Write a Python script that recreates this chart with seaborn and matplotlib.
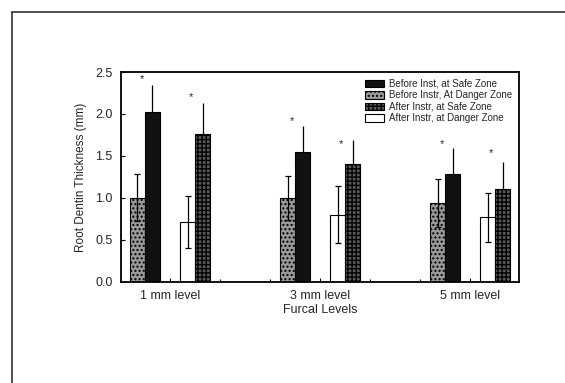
import numpy as np
import matplotlib
matplotlib.use("Agg")
import matplotlib.pyplot as plt
from matplotlib.lines import Line2D
from matplotlib.ticker import MultipleLocator
import seaborn as sns

levels = ["1 mm level", "3 mm level", "5 mm level"]
series = [
    "Before Inst, at Safe Zone",
    "Before Instr, At Danger Zone",
    "After Instr, at Safe Zone",
    "After Instr, at Danger Zone",
]
# values (mm)
before_safe = [2.02, 1.55, 1.28]
before_danger = [1.00, 1.00, 0.94]
after_safe = [1.76, 1.40, 1.11]
after_danger = [0.71, 0.80, 0.77]
before_safe_err = [0.33, 0.31, 0.31]
before_danger_err = [0.28, 0.26, 0.29]
after_safe_err = [0.37, 0.29, 0.32]
after_danger_err = [0.31, 0.34, 0.29]
# significance stars (before pair, after pair)
star_before_y = [2.41, 1.92, 1.64]
star_after_y = [2.20, 1.64, 1.54]

sns.set_style("white")
plt.rcParams["font.family"] = ["Liberation Sans", "DejaVu Sans"]

fig = plt.figure(figsize=(5.65, 3.83), dpi=100)
ax = fig.add_axes([0.214, 0.264, 0.705, 0.548])

idx = np.arange(len(levels))
# bar order inside each group: before danger, before safe | after danger, after safe
layout = [
    (series[1], before_danger, before_danger_err, -0.217, "#9a9a9a", "....", True),
    (series[0], before_safe, before_safe_err, -0.117, "#111111", None, False),
    (series[3], after_danger, after_danger_err, 0.117, "white", None, True),
    (series[2], after_safe, after_safe_err, 0.217, "#5a5a5a", "++++", False),
]

for name, vals, errs, off, col, hatch, both in layout:
    pos = idx + off
    sns.barplot(x=pos, y=vals, native_scale=True, width=0.1, color=col,
                saturation=1, edgecolor="black", linewidth=0.8, hatch=hatch,
                errorbar=None, label=name, ax=ax)
    if both:
        ax.errorbar(pos, vals, yerr=errs, fmt="none", ecolor="black",
                    elinewidth=0.9, capsize=2.5, capthick=0.9)
    else:
        ax.errorbar(pos, vals, yerr=[np.zeros(len(vals)), errs], fmt="none",
                    ecolor="black", elinewidth=0.9, capsize=0)

for i in idx:
    ax.text(i - 0.19, star_before_y[i], "*", ha="center", va="center", fontsize=8)
    ax.text(i + 0.14, star_after_y[i], "*", ha="center", va="center", fontsize=8)

ax.set_xlim(-0.327, 2.327)
ax.set_ylim(0, 2.5)
ax.set_xticks(idx)
ax.set_xticklabels(levels, fontsize=9)
ax.xaxis.set_minor_locator(MultipleLocator(1 / 3))
ax.set_yticks(np.arange(0, 2.51, 0.5))
ax.set_yticklabels([f"{v:.1f}" for v in np.arange(0, 2.51, 0.5)], fontsize=9)
ax.tick_params(axis="both", which="both", direction="in", length=3, width=0.8,
               color="black", pad=6)
ax.tick_params(axis="x", which="minor", length=2)
ax.tick_params(axis="y", which="major", left=True)
ax.tick_params(axis="x", which="both", bottom=True)
ax.set_xlabel("Furcal Levels", fontsize=9, labelpad=1)
ax.set_ylabel("Root Dentin Thickness (mm)", fontsize=8.5, labelpad=6)
for sp in ax.spines.values():
    sp.set_color("black")
    sp.set_linewidth(1.3)

handles, labels = ax.get_legend_handles_labels()
order = [labels.index(s) for s in series]
ax.legend([handles[k] for k in order], [labels[k] for k in order],
          loc="upper right", bbox_to_anchor=(1.0, 1.0), frameon=False,
          fontsize=7, handlelength=2.0, handleheight=0.8, labelspacing=0.15,
          handletextpad=0.5, borderaxespad=0.3)

# outer frame of the scanned figure (open at right and bottom)
fig.add_artist(Line2D([12 / 565, 12 / 565], [0, 1 - 12 / 383], color="#333333", lw=1.2))
fig.add_artist(Line2D([12 / 565, 1], [1 - 12 / 383, 1 - 12 / 383], color="#333333", lw=1.2))

fig.savefig("out.png", dpi=100, facecolor="white")
